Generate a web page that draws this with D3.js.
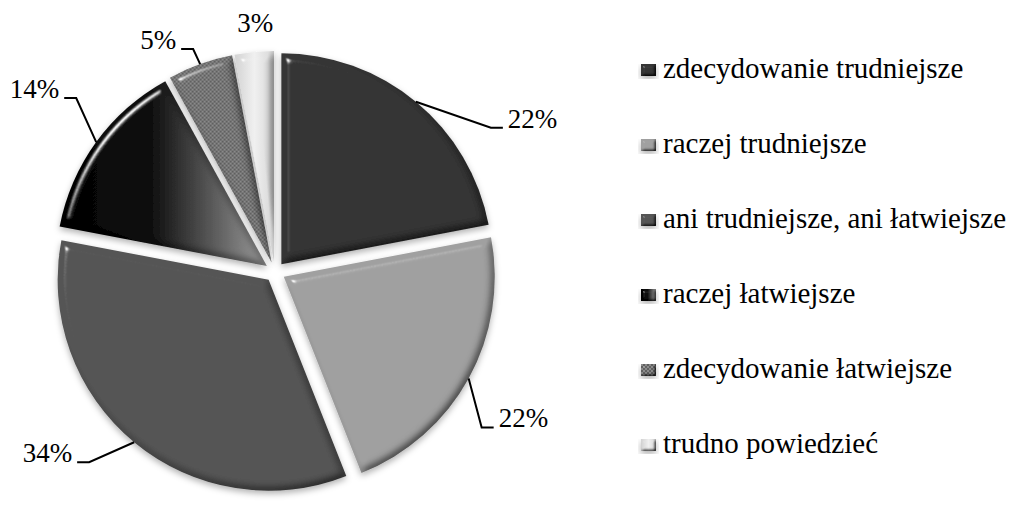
<!DOCTYPE html>
<html>
<head>
<meta charset="utf-8">
<script src="https://cdn.jsdelivr.net/npm/d3@7"></script>
<style>
  html, body { margin: 0; padding: 0; background: #fff; }
  svg { display: block; }
</style>
</head>
<body>
<div id="chart"></div>
<script>
// Chart data
const categories = [
    "zdecydowanie trudniejsze",
    "raczej trudniejsze",
    "ani trudniejsze, ani łatwiejsze",
    "raczej łatwiejsze",
    "zdecydowanie łatwiejsze",
    "trudno powiedzieć"
];
const values = [22, 22, 34, 14, 5, 3];
const valueLabels = ["22%", "22%", "34%", "14%", "5%", "3%"];

// Slice fills (url ids are defined in <defs> below)
const fills = ["#343434", "#a0a0a0", "#555555", "url(#grad4)", "url(#dots5)", "url(#grad6)"];

// Leader line elbows, offset from the point where the leader meets the slice
const elbowOffsets = [[75, 26], [13, 49], [-45, 20], [-20, -44], [-7, -15], null];

const width = 1024, height = 510;
const cx = 275, cy = 272, radius = 211, explode = 10;
const serif = "'Liberation Serif', 'Times New Roman', Times, serif";

const svg = d3.select("#chart").append("svg")
    .attr("width", width)
    .attr("height", height);

// Defs: bevel filter, gradients, pattern
const defs = svg.append("defs");

function bevelFilter(id, blurSize, depth) {
    const f = defs.append("filter").attr("id", id)
        .attr("x", "-20%").attr("y", "-20%").attr("width", "140%").attr("height", "140%");
    f.append("feGaussianBlur").attr("in", "SourceAlpha").attr("stdDeviation", blurSize).attr("result", "blur");
    // shading: flat areas stay as they are, edges facing away from the light get darker
    const diff = f.append("feDiffuseLighting").attr("in", "blur")
        .attr("surfaceScale", depth).attr("diffuseConstant", 1.22)
        .attr("lighting-color", "#ffffff").attr("result", "diff");
    diff.append("feDistantLight").attr("azimuth", 225).attr("elevation", 55);
    f.append("feComposite").attr("in", "SourceGraphic").attr("in2", "diff").attr("operator", "arithmetic")
        .attr("k1", 1).attr("k2", 0).attr("k3", 0).attr("k4", 0).attr("result", "lit");
    // highlight on the edges facing the light
    const spec = f.append("feSpecularLighting").attr("in", "blur")
        .attr("surfaceScale", depth).attr("specularConstant", 0.9).attr("specularExponent", 110)
        .attr("lighting-color", "#ffffff").attr("result", "spec");
    spec.append("feDistantLight").attr("azimuth", 225).attr("elevation", 50);
    f.append("feComposite").attr("in", "spec").attr("in2", "SourceAlpha").attr("operator", "in").attr("result", "specIn");
    // soft shadow below
    f.append("feGaussianBlur").attr("in", "SourceAlpha").attr("stdDeviation", 3).attr("result", "sblur");
    f.append("feOffset").attr("in", "sblur").attr("dx", 0).attr("dy", 3).attr("result", "soff");
    f.append("feFlood").attr("flood-color", "#000").attr("flood-opacity", 0.3).attr("result", "sc");
    f.append("feComposite").attr("in", "sc").attr("in2", "soff").attr("operator", "in").attr("result", "shadow");
    const merge = f.append("feMerge");
    merge.append("feMergeNode").attr("in", "shadow");
    merge.append("feMergeNode").attr("in", "lit");
    merge.append("feMergeNode").attr("in", "specIn");
}
bevelFilter("bevel", 4, 5);
bevelFilter("bevelSmall", 1.5, 3);

const g4 = defs.append("linearGradient").attr("id", "grad4")
    .attr("x1", 0).attr("y1", 0).attr("x2", 1).attr("y2", 0);
g4.append("stop").attr("offset", "0%").attr("stop-color", "#000");
g4.append("stop").attr("offset", "45%").attr("stop-color", "#111");
g4.append("stop").attr("offset", "100%").attr("stop-color", "#9c9c9c");

const g6 = defs.append("linearGradient").attr("id", "grad6")
    .attr("x1", 0).attr("y1", 0).attr("x2", 1).attr("y2", 0);
g6.append("stop").attr("offset", "0%").attr("stop-color", "#d2d2d2");
g6.append("stop").attr("offset", "50%").attr("stop-color", "#f0f0f0");
g6.append("stop").attr("offset", "100%").attr("stop-color", "#d6d6d6");

const p5 = defs.append("pattern").attr("id", "dots5")
    .attr("width", 4).attr("height", 4).attr("patternUnits", "userSpaceOnUse");
p5.append("rect").attr("width", 4).attr("height", 4).attr("fill", "#8a8a8a");
p5.append("rect").attr("width", 2).attr("height", 2).attr("fill", "#606060");
p5.append("rect").attr("x", 2).attr("y", 2).attr("width", 2).attr("height", 2).attr("fill", "#606060");

// Pie layout
const pie = d3.pie().sort(null).value(d => d)(values);
const arc = d3.arc().innerRadius(0).outerRadius(radius);
const edgeArc = d3.arc().innerRadius(radius).outerRadius(radius);

const midAngle = d => (d.startAngle + d.endAngle) / 2;
const shift = d => [explode * Math.sin(midAngle(d)), -explode * Math.cos(midAngle(d))];

const pieG = svg.append("g").attr("transform", `translate(${cx},${cy})`);

pieG.selectAll("path.slice")
    .data(pie)
    .join("path")
    .attr("class", "slice")
    .attr("transform", d => `translate(${shift(d)})`)
    .attr("d", arc)
    .attr("fill", (d, i) => fills[i])
    .attr("filter", "url(#bevel)");

// Data labels with leader lines
pie.forEach((d, i) => {
    const s = shift(d);
    const c = edgeArc.centroid(d);
    const p0 = [c[0] + s[0], c[1] + s[1]];
    const off = elbowOffsets[i];
    if (!off) {
        pieG.append("text")
            .attr("x", p0[0] + 1)
            .attr("y", p0[1] - 20)
            .attr("text-anchor", "middle")
            .style("font-family", serif)
            .style("font-size", "27px")
            .text(valueLabels[i]);
        return;
    }
    const p1 = [p0[0] + off[0], p0[1] + off[1]];
    const dir = off[0] >= 0 ? 1 : -1;
    const p2 = [p1[0] + dir * 12, p1[1]];
    pieG.append("path")
        .attr("d", d3.line()([p0, p1, p2]))
        .attr("fill", "none")
        .attr("stroke", "#000")
        .attr("stroke-width", 2);
    pieG.append("text")
        .attr("x", p2[0] + dir * 5)
        .attr("y", p1[1])
        .attr("text-anchor", dir > 0 ? "start" : "end")
        .style("font-family", serif)
        .style("font-size", "27px")
        .text(valueLabels[i]);
});

// Legend
const ly = d3.scalePoint().domain(categories).range([70, 445]);
const legend = svg.append("g");
const rows = legend.selectAll("g")
    .data(categories)
    .join("g")
    .attr("transform", d => `translate(641,${ly(d)})`);
rows.append("rect")
    .attr("x", 0).attr("y", -6)
    .attr("width", 15).attr("height", 12)
    .attr("fill", (d, i) => fills[i])
    .attr("filter", "url(#bevelSmall)");
rows.append("text")
    .attr("x", 22)
    .attr("y", 8)
    .style("font-family", serif)
    .style("font-size", "29px")
    .text(d => d);
</script>
</body>
</html>
